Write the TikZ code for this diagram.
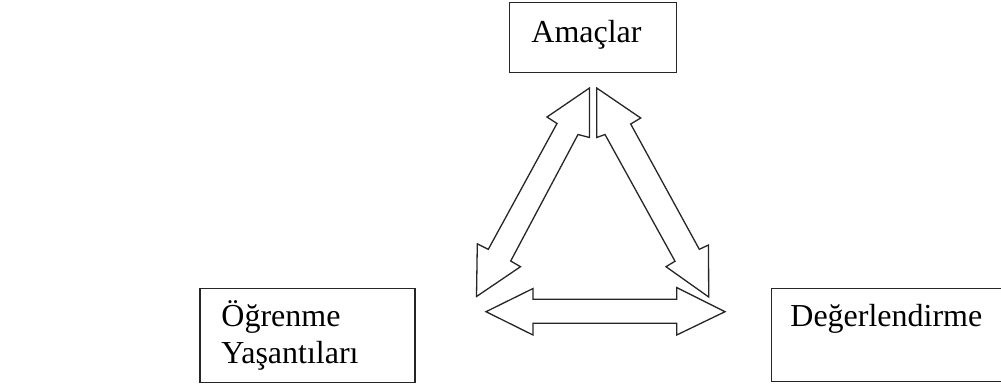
\documentclass[tikz,border=0pt]{standalone}
\usepackage{fontspec}
\setmainfont{Liberation Serif}
\begin{document}
\begin{tikzpicture}[x=1pt,y=-1pt,
  box/.style={draw=black!85,line width=1.3pt,inner sep=0pt},
  lbl/.style={anchor=base west,inner sep=0pt,font=\fontsize{32}{36.7}\selectfont,align=left},
  blockarrow/.style={draw=black!85,line width=1.3pt,line join=miter,fill=white}]
\useasboundingbox (0,0) rectangle (1001,389);
% boxes
\node[box,minimum width=167pt,minimum height=70.5pt] (amac) at (592.7,37.5) {};
\node[lbl] (amact) at (531.2,42.7) {Amaçlar};
\node[box,minimum width=215pt,minimum height=94.4pt] (ogr) at (307.5,335.5) {};
\node[lbl] (ogrt1) at (221.2,326.7) {Öğrenme};
\node[lbl] (ogrt2) at (221.2,363.3) {Yaşantıları};
\begin{scope}
\clip (0,0) rectangle (1001,389);
\node[box,minimum width=260pt,minimum height=93.4pt] (deg) at (901.7,335) {};
\end{scope}
\node[lbl] (degt) at (790.2,326.7) {Değerlendirme};
% left diagonal block arrow (Amaçlar <-> Öğrenme)
\draw[blockarrow] (589.5,88) -- (547,117) -- (557,123.5) -- (488.3,249.3) -- (477.3,243.8)
  -- (476.5,296.5) -- (520.5,266.7) -- (510.7,261) -- (578,134.5) -- (589.5,137.5) -- cycle;
% right diagonal block arrow (Amaçlar <-> Değerlendirme)
\draw[blockarrow] (596.7,88) -- (640.7,118) -- (630.7,124) -- (699.3,249.3) -- (708.5,245)
  -- (708.7,297) -- (666,266.7) -- (675,261.2) -- (605,134.5) -- (596.7,137.5) -- cycle;
% horizontal block arrow (Öğrenme <-> Değerlendirme)
\draw[blockarrow] (486,311.7) -- (533,288.5) -- (533,299.3) -- (676.7,299.3) -- (676.7,287.5)
  -- (725,311.7) -- (676.7,335) -- (676.7,323.3) -- (533,323.3) -- (533,335) -- cycle;
\end{tikzpicture}
\end{document}
